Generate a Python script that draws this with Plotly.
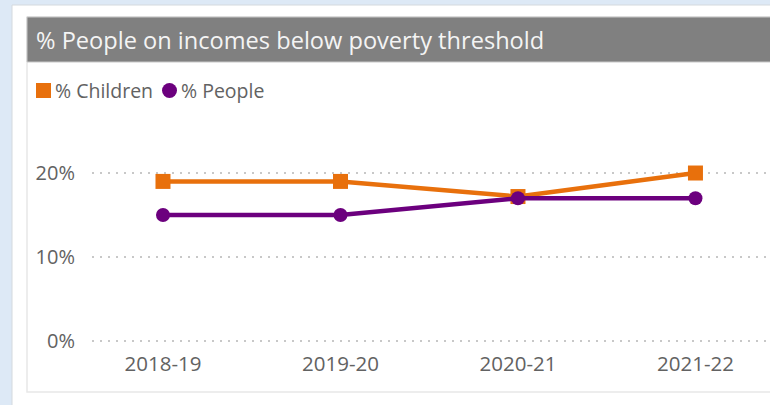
import plotly.graph_objects as go

# Financial years and poverty rates (%)
years = ["2018-19", "2019-20", "2020-21", "2021-22"]
children_pct = [19.0, 19.0, 17.2, 20.0]
people_pct = [15.0, 15.0, 17.0, 17.0]
y_ticks = [0, 10, 20]
y_tick_labels = ["0%", "10%", "20%"]

W, H = 770, 405
L, R, T, B = 92, 0, 105, 62
PW, PH = W - L - R, H - T - B


def px_x(x):
    return (x - L) / PW


def px_y(y):
    return (H - B - y) / PH


ORANGE = "#E8700C"
PURPLE = "#6C007E"
TEXT = "#626262"
FONT = "Open Sans"

fig = go.Figure()

fig.add_trace(go.Scatter(
    x=years, y=children_pct, name="% Children", mode="lines+markers",
    line=dict(color=ORANGE, width=4.5),
    marker=dict(symbol="square", size=15, color=ORANGE),
    showlegend=False, hovertemplate="%{x}: %{y}%<extra>% Children</extra>",
))
fig.add_trace(go.Scatter(
    x=years, y=people_pct, name="% People", mode="lines+markers",
    line=dict(color=PURPLE, width=4.5),
    marker=dict(symbol="circle", size=14, color=PURPLE),
    showlegend=False, hovertemplate="%{x}: %{y}%<extra>% People</extra>",
))

shapes = [
    # white page panel
    dict(type="rect", xref="paper", yref="paper", layer="below",
         x0=px_x(12), x1=px_x(780), y0=px_y(5), y1=px_y(410),
         fillcolor="white", line=dict(color="#d4d9de", width=1)),
    # card outline
    dict(type="rect", xref="paper", yref="paper", layer="below",
         x0=px_x(27), x1=px_x(790), y0=px_y(17), y1=px_y(392),
         fillcolor="white", line=dict(color="#e8e8e8", width=1.5)),
    # title bar
    dict(type="rect", xref="paper", yref="paper", layer="below",
         x0=px_x(27), x1=px_x(790), y0=px_y(17), y1=px_y(62),
         fillcolor="#808080", line=dict(color="#c8c8c8", width=1)),
    # legend symbols
    dict(type="rect", xref="paper", yref="paper",
         x0=px_x(36), x1=px_x(51), y0=px_y(83), y1=px_y(98),
         fillcolor=ORANGE, line=dict(width=0)),
    dict(type="circle", xref="paper", yref="paper",
         x0=px_x(162), x1=px_x(177), y0=px_y(83), y1=px_y(98),
         fillcolor=PURPLE, line=dict(width=0)),
]

annotations = [
    dict(text="% People on incomes below poverty threshold", xref="paper", yref="paper",
         x=px_x(34), y=px_y(40), xanchor="left", yanchor="middle", showarrow=False,
         font=dict(family=FONT, size=23.6, color="#f4f4f4")),
    dict(text="% Children", xref="paper", yref="paper",
         x=px_x(53), y=px_y(90), xanchor="left", yanchor="middle", showarrow=False,
         font=dict(family=FONT, size=19.5, color=TEXT)),
    dict(text="% People", xref="paper", yref="paper",
         x=px_x(179), y=px_y(90), xanchor="left", yanchor="middle", showarrow=False,
         font=dict(family=FONT, size=19.5, color=TEXT)),
]

fig.update_layout(
    width=W, height=H,
    margin=dict(l=L, r=R, t=T, b=B),
    paper_bgcolor="#dde9f6",
    plot_bgcolor="rgba(0,0,0,0)",
    shapes=shapes,
    annotations=annotations,
    showlegend=False,
    xaxis=dict(
        type="category", range=[-0.4, 3.42], showgrid=False, zeroline=False,
        showline=False, ticks="outside", ticklen=2, tickcolor="rgba(0,0,0,0)",
        tickfont=dict(family=FONT, size=20.5, color=TEXT), fixedrange=True,
    ),
    yaxis=dict(
        range=[-0.24, 28.1], tickvals=y_ticks, ticktext=y_tick_labels,
        showgrid=True, gridcolor="#c8c8c8", griddash="2px,6px", gridwidth=2,
        zeroline=False, showline=False, ticks="outside", ticklen=12,
        tickcolor="rgba(0,0,0,0)",
        tickfont=dict(family=FONT, size=20, color=TEXT), fixedrange=True,
    ),
)

fig.write_html("out.html", config=dict(displayModeBar=False))
